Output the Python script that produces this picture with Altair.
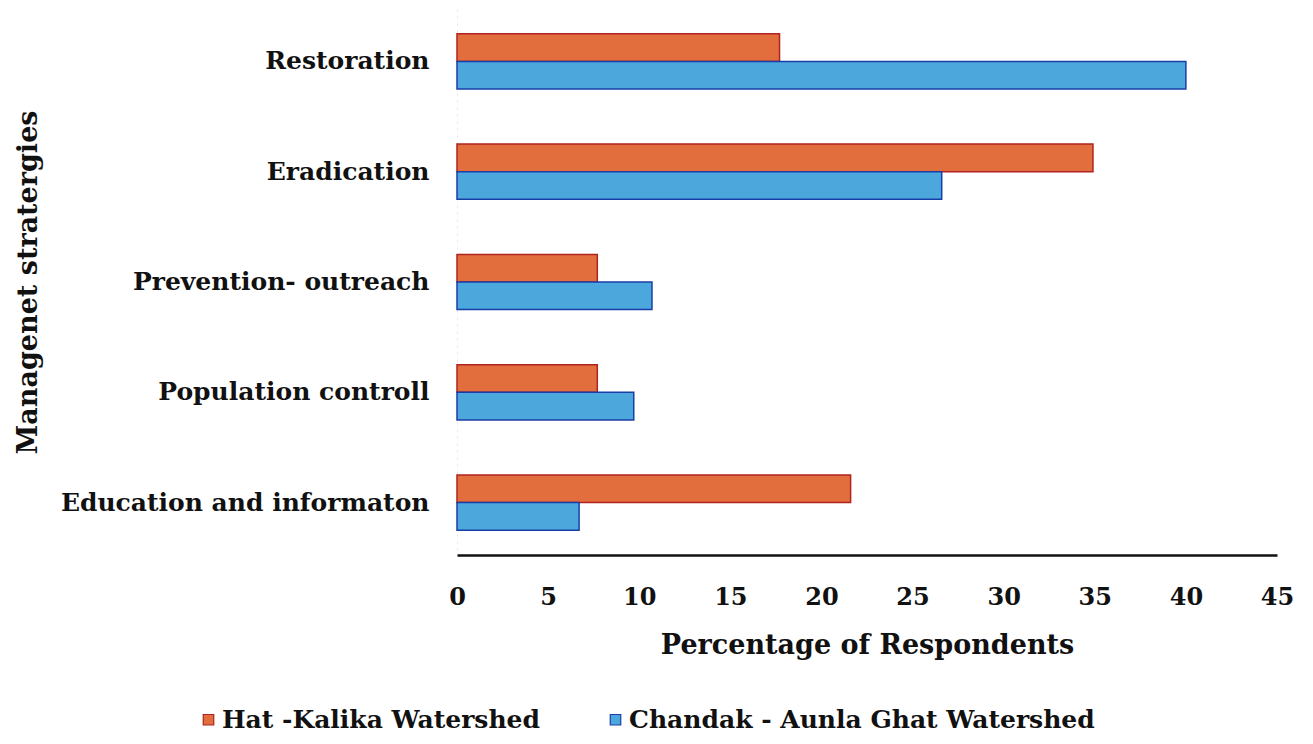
import altair as alt
import pandas as pd

strategies = ["Restoration", "Eradication", "Prevention- outreach",
              "Population controll", "Education and informaton"]
series = ["Hat -Kalika  Watershed", "Chandak - Aunla Ghat Watershed"]
hat_kalika = [17.7, 34.9, 7.7, 7.7, 21.6]
chandak = [40, 26.6, 10.7, 9.7, 6.7]
x_ticks = [0, 5, 10, 15, 20, 25, 30, 35, 40, 45]

fill_colors = ["#E26E3E", "#4BA7DC"]
stroke_colors = ["#B0231E", "#1A3EA8"]

rows = []
for i, s in enumerate(strategies):
    rows.append({"strategy": s, "series": series[0], "value": hat_kalika[i]})
    rows.append({"strategy": s, "series": series[1], "value": chandak[i]})
df = pd.DataFrame(rows)

FONT = "DejaVu Serif"

legend_cfg = dict(title=None, orient="none", direction="horizontal",
                  columns=2, legendX=-261, legendY=698,
                  symbolType="square", symbolSize=110,
                  symbolStrokeWidth=1.2, labelFont=FONT,
                  labelFontSize=25, labelFontWeight="bold",
                  labelColor="#111111", labelLimit=700,
                  labelOffset=1, columnPadding=54)

chart = alt.Chart(df).mark_bar(strokeWidth=1.5).encode(
    x=alt.X("value:Q",
            scale=alt.Scale(domain=[0, 45], nice=False, zero=True),
            axis=alt.Axis(values=x_ticks, grid=False, ticks=False,
                          domainColor="#111111", domainWidth=2.5,
                          labelFont=FONT, labelFontSize=24, labelFontWeight="bold",
                          labelColor="#111111", labelPadding=30, labelFlush=False,
                          title="Percentage of Respondents", titleFont=FONT,
                          titleFontSize=27, titleFontWeight="bold", titleColor="#111111",
                          titleY=90, titleBaseline="middle")),
    y=alt.Y("strategy:N", sort=strategies,
            scale=alt.Scale(paddingInner=0.5, paddingOuter=0.225),
            axis=alt.Axis(ticks=False, domainColor="#e4e4e4", domainDash=[2, 5],
                          labelFont=FONT, labelFontSize=25, labelFontWeight="bold",
                          labelColor="#111111", labelPadding=28, labelLimit=600,
                          title="Managenet stratergies", titleFont=FONT,
                          titleFontSize=27, titleFontWeight="bold", titleColor="#111111",
                          titleAngle=270, titleX=-429, titleY=273,
                          titleBaseline="middle", titleAlign="center")),
    yOffset=alt.YOffset("series:N", sort=series,
                        scale=alt.Scale(paddingInner=0, paddingOuter=0)),
    fill=alt.Fill("series:N", sort=series,
                  scale=alt.Scale(domain=series, range=fill_colors),
                  legend=alt.Legend(**legend_cfg)),
    stroke=alt.Stroke("series:N", sort=series,
                      scale=alt.Scale(domain=series, range=stroke_colors),
                      legend=alt.Legend(**legend_cfg)),
).properties(
    width=820, height=546,
    autosize=alt.AutoSizeParams(type="none"),
    padding={"left": 449, "top": 1, "right": 28, "bottom": 182},
).configure(background="white").configure_view(stroke=None)

chart.save("out.html", embed_options={"renderer": "svg", "actions": False})
